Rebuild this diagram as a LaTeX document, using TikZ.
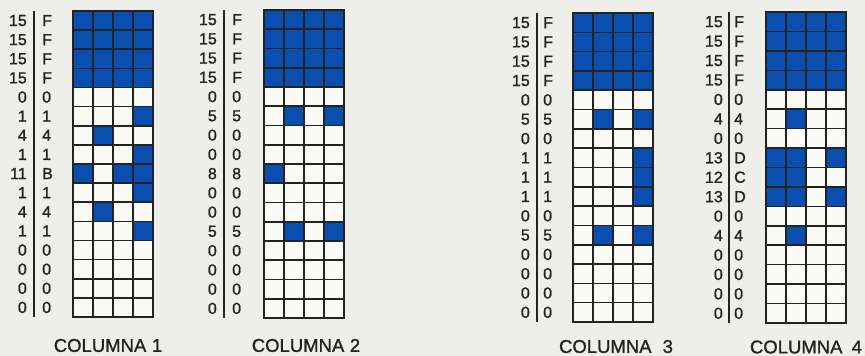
\documentclass[tikz,border=0pt]{standalone}
\usepackage{fontspec}
\setmainfont{Liberation Sans}
\newfontfamily\medfont[FakeBold=1.2]{Liberation Sans}
\definecolor{cellblue}{RGB}{10,78,176}
\definecolor{paper}{RGB}{238,238,234}
\definecolor{cellwhite}{RGB}{250,250,247}
\definecolor{ink}{RGB}{35,35,35}
\newcommand\hexdig[1]{\ifcase#1 0\or 1\or 2\or 3\or 4\or 5\or 6\or 7\or 8\or 9\or A\or B\or C\or D\or E\or F\fi}
\tikzset{
  gridline/.style={draw=ink, line width=1.6pt},
  sepline/.style={draw=ink, line width=1.2pt},
  declabel/.style={anchor=east, inner sep=0pt, text=ink, font=\medfont\fontsize{16}{16}\selectfont},
  hexlabel/.style={anchor=west, inner sep=0pt, text=ink, font=\medfont\fontsize{16}{16}\selectfont},
  caption/.style={inner sep=0pt, text=ink, font=\medfont\fontsize{18.5}{18.5}\selectfont},
  oncell/.style={fill=cellblue},
  offcell/.style={fill=cellwhite}
}
\begin{document}
\begin{tikzpicture}[x=1pt,y=-1pt]
\fill[paper] (0,0) rectangle (865,356);
\useasboundingbox (0,0) rectangle (865,356);
\foreach \cid/\L/\T/\B/\dr/\lx/\hl/\cx/\cy/\gap/\vals in {
  1/73/11/317/27/34/42/108/345.5/0.3em/{15,15,15,15,0,1,4,1,11,1,4,1,0,0,0,0},
  2/264/10/318/217/224/232/306/345.5/0.3em/{15,15,15,15,0,5,0,0,8,0,0,5,0,0,0,0},
  3/573/13/322/530/537/543/616/346.5/0.6em/{15,15,15,15,0,5,0,1,1,1,0,5,0,0,0,0},
  4/766/12/323/723/729/734/806/347/0.5em/{15,15,15,15,0,4,0,13,12,13,0,4,0,0,0,0}}{
  \pgfmathsetmacro\h{(\B-\T)/16}
  \foreach \v [count=\r from 0] in \vals {
    \pgfmathsetmacro\ya{\T+\r*\h}
    \pgfmathsetmacro\yb{\T+(\r+1)*\h}
    \pgfmathsetmacro\ym{\T+(\r+0.5)*\h}
    \foreach \c in {0,1,2,3} {
      \pgfmathtruncatemacro\bit{mod(floor(\v/(2^(3-\c))),2)}
      \pgfmathsetmacro\xa{\L+\c*20}
      \pgfmathsetmacro\xb{\L+(\c+1)*20}
      \ifnum\bit=1
        \fill[oncell] (\xa,\ya) rectangle (\xb,\yb);
      \else
        \fill[offcell] (\xa,\ya) rectangle (\xb,\yb);
      \fi
    }
    \node[declabel] (d\cid-\r) at (\dr,\ym) {\v};
    \node[hexlabel] (h\cid-\r) at (\hl,\ym) {\hexdig{\v}};
  }
  \foreach \i in {0,...,16} {
    \pgfmathsetmacro\yy{\T+\i*\h}
    \draw[gridline] (\L-0.8,\yy) -- (\L+80.8,\yy);
  }
  \foreach \j in {0,...,4} {
    \draw[gridline] (\L+\j*20,\T) -- (\L+\j*20,\B);
  }
  \draw[sepline] (\lx,\T) -- (\lx,\B);
  \node[caption] (cap\cid) at (\cx,\cy) {COLUMNA\hspace{\gap}\cid};
}
\end{tikzpicture}
\end{document}
